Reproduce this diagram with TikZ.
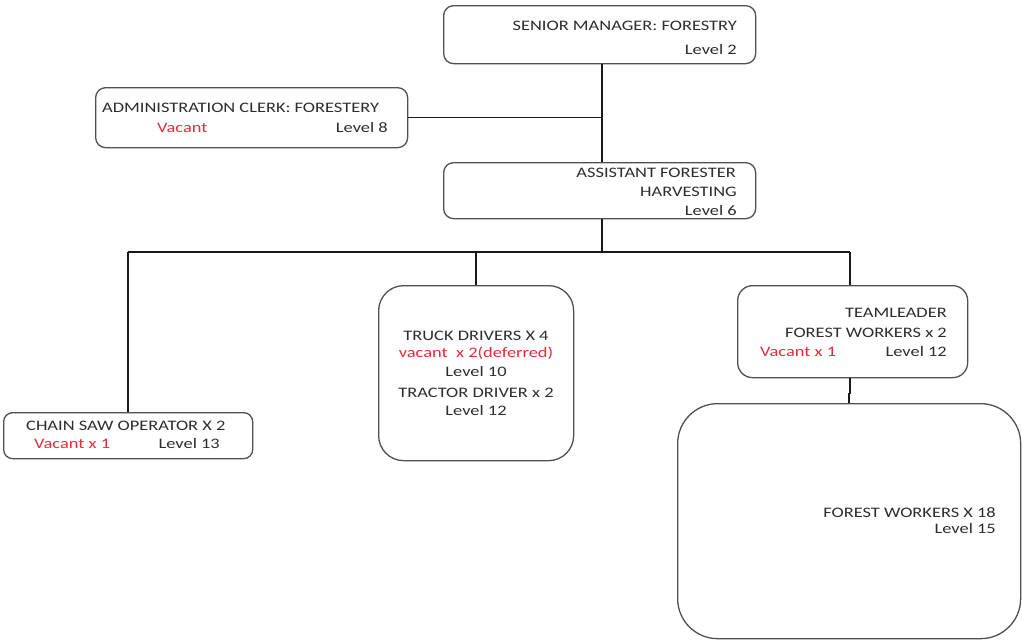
\documentclass[tikz,border=0pt]{standalone}
\usepackage{fontspec}
\setmainfont{Carlito}[FakeStretch=1.27]
\definecolor{boxline}{RGB}{80,80,80}
\definecolor{inktext}{RGB}{45,45,45}
\definecolor{vacantred}{RGB}{225,45,55}
\begin{document}
\begin{tikzpicture}[x=1pt,y=-1pt,
  post/.style={draw=boxline,line width=1.3pt,fill=white,rectangle,anchor=north west,inner sep=0pt},
  link/.style={draw=black!90,line width=1.4pt},
  lbl/.style={inner sep=0pt,text=inktext,font=\fontsize{14.5}{17}\selectfont},
  vac/.style={lbl,text=vacantred}]
\useasboundingbox (0,0) rectangle (1022,641);

% posts
\node[post,rounded corners=10pt,minimum width=312pt,minimum height=58pt] (sm) at (443,5) {};
\node[post,rounded corners=10pt,minimum width=312pt,minimum height=60pt] (adm) at (95,87) {};
\node[post,rounded corners=10pt,minimum width=312pt,minimum height=56pt] (af) at (443,162) {};
\node[post,rounded corners=25pt,minimum width=195pt,minimum height=175pt] (trk) at (378,285) {};
\node[post,rounded corners=15pt,minimum width=230pt,minimum height=92pt] (tl) at (737,285) {};
\node[post,rounded corners=9pt,minimum width=249pt,minimum height=46pt] (cso) at (3,412) {};
\node[post,rounded corners=40pt,minimum width=343pt,minimum height=235pt] (fw) at (677,403) {};

% connector guides
\coordinate (spine) at (602,0);
\coordinate (busL) at (128,252);
\coordinate (busR) at (850,252);

% connectors
\draw[link] (sm.south -| spine) -- (af.north -| spine);
\draw[link] (adm.east) -- (adm.east -| spine);
\draw[link] (af.south -| spine) -- (spine |- busL);
\draw[link] (busL) -- (busR);
\draw[link] (busL) -- (cso.north -| busL);
\draw[link] (trk.north) -- (trk.north |- busL);
\draw[link] (busR) -- (tl.north -| busR);
\draw[link] (tl.south -| busR) -- ++(0,15) -| (fw.north);

% labels
\node[lbl,anchor=base east] (smA) at (737,30) {SENIOR MANAGER: FORESTRY};
\node[lbl,anchor=base east] (smB) at (737,54) {Level 2};

\node[lbl,anchor=base west] (admA) at (102,112) {ADMINISTRATION CLERK: FORESTERY};
\node[vac,anchor=base west] (admB) at (157,132) {Vacant};
\node[lbl,anchor=base east] (admC) at (388,132) {Level 8};

\node[lbl,anchor=base east] (afA) at (736,177) {ASSISTANT FORESTER};
\node[lbl,anchor=base east] (afB) at (737,196) {HARVESTING};
\node[lbl,anchor=base east] (afC) at (737,215) {Level 6};

\node[lbl,anchor=base] (trkA) at (476,340) {TRUCK DRIVERS X 4};
\node[vac,anchor=base] (trkB) at (476,357) {vacant \ x 2(deferred)};
\node[lbl,anchor=base] (trkC) at (476,376) {Level 10};
\node[lbl,anchor=base] (trkD) at (476,397) {TRACTOR DRIVER x 2};
\node[lbl,anchor=base] (trkE) at (476,415) {Level 12};

\node[lbl,anchor=base east] (tlA) at (947,317) {TEAMLEADER};
\node[lbl,anchor=base east] (tlB) at (947,337) {FOREST WORKERS x 2};
\node[vac,anchor=base west] (tlC) at (760,356) {Vacant x 1};
\node[lbl,anchor=base east] (tlD) at (947,356) {Level 12};

\node[lbl,anchor=base west] (csoA) at (26,430) {CHAIN SAW OPERATOR X 2};
\node[vac,anchor=base west] (csoB) at (34,448) {Vacant x 1};
\node[lbl,anchor=base east] (csoC) at (220,448) {Level 13};

\node[lbl,anchor=base east] (fwA) at (996,517) {FOREST WORKERS X 18};
\node[lbl,anchor=base east] (fwB) at (996,533) {Level 15};
\end{tikzpicture}
\end{document}
